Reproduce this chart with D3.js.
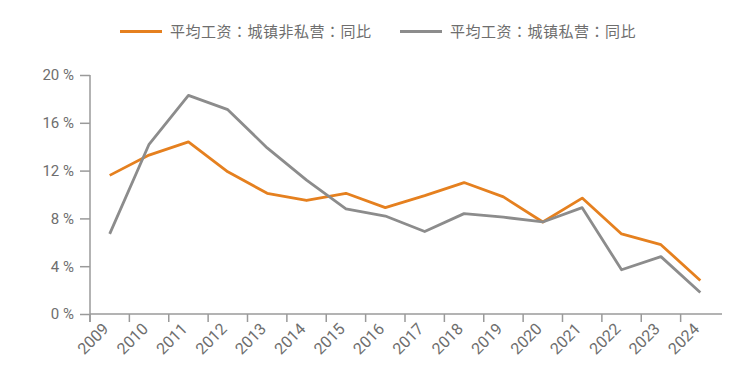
<!DOCTYPE html>
<html>
<head>
<meta charset="utf-8">
<script src="https://cdn.jsdelivr.net/npm/d3@7"></script>
<style>
  body { margin: 0; background: #fff; }
  text { font-family: Roboto, "Noto Sans", sans-serif; }
</style>
</head>
<body>
<div id="chart"></div>
<script>
var years = ["2009","2010","2011","2012","2013","2014","2015","2016","2017","2018","2019","2020","2021","2022","2023","2024"];
var nonPrivate = [11.6, 13.3, 14.4, 11.9, 10.1, 9.5, 10.1, 8.9, 9.9, 11.0, 9.8, 7.7, 9.7, 6.7, 5.8, 2.8];
var privateSec = [6.7, 14.2, 18.3, 17.1, 13.9, 11.2, 8.8, 8.2, 6.9, 8.4, 8.1, 7.7, 8.9, 3.7, 4.8, 1.8];
var yTicks = [0, 4, 8, 12, 16, 20];
var seriesNames = ["平均工资：城镇非私营：同比", "平均工资：城镇私营：同比"];

var width = 752, height = 380;
var axisColor = "#9a9a9a", textColor = "#6e6e6e";
var colors = ["#e5801f", "#8c8c8c"];

var svg = d3.select("#chart").append("svg")
    .attr("width", width)
    .attr("height", height);

var x = d3.scaleBand()
    .domain(years)
    .range([90, 720]);
var bw = x.bandwidth();

var y = d3.scaleLinear()
    .domain([0, 20])
    .range([314, 75]);

// y axis
var yAxis = svg.append("g")
    .attr("transform", "translate(90,0)")
    .call(d3.axisLeft(y).tickValues(yTicks).tickSize(10).tickPadding(6)
      .tickFormat(function(d) { return d + " %"; }));
yAxis.select(".domain").attr("stroke", axisColor).attr("stroke-width", 1.5)
    .attr("d", "M0,75V322");
yAxis.selectAll(".tick line").attr("stroke", axisColor).attr("stroke-width", 1.5);
yAxis.selectAll(".tick text")
    .attr("fill", textColor)
    .style("font-size", "15px");

// x axis
var xAxis = svg.append("g")
    .attr("transform", "translate(0,314)")
    .call(d3.axisBottom(x).tickSize(8).tickSizeOuter(0));
xAxis.select(".domain").attr("stroke", axisColor).attr("stroke-width", 1.5)
    .attr("d", "M90,0H722");
xAxis.selectAll(".tick line")
    .attr("stroke", axisColor).attr("stroke-width", 1.5)
    .attr("x1", -bw / 2).attr("x2", -bw / 2);
xAxis.selectAll(".tick text")
    .attr("fill", textColor)
    .style("font-size", "16px")
    .attr("x", 0).attr("y", 0).attr("dy", "0.35em")
    .attr("transform", "translate(-4,12) rotate(-45)")
    .style("text-anchor", "end");

// lines
var line = d3.line()
    .x(function(d) { return x(d.year) + bw / 2; })
    .y(function(d) { return y(d.value); });

[nonPrivate, privateSec].forEach(function(vals, i) {
  var pts = years.map(function(yr, j) { return {year: yr, value: vals[j]}; });
  svg.append("path")
    .datum(pts)
    .attr("fill", "none")
    .attr("stroke", colors[i])
    .attr("stroke-width", 2.8)
    .attr("stroke-linejoin", "round")
    .attr("d", line);
});

// legend
var legendX = [120, 400];
seriesNames.forEach(function(name, i) {
  var g = svg.append("g").attr("transform", "translate(" + legendX[i] + ",31.5)");
  g.append("line")
    .attr("x1", 0).attr("x2", 42)
    .attr("stroke", colors[i]).attr("stroke-width", 3);
  g.append("text")
    .attr("x", 50).attr("dy", "0.35em")
    .attr("fill", textColor)
    .style("font-family", "'Noto Sans CJK JP', 'Noto Sans CJK SC', sans-serif")
    .style("font-size", "15px")
    .style("letter-spacing", "0.5px")
    .text(name);
});
</script>
</body>
</html>
